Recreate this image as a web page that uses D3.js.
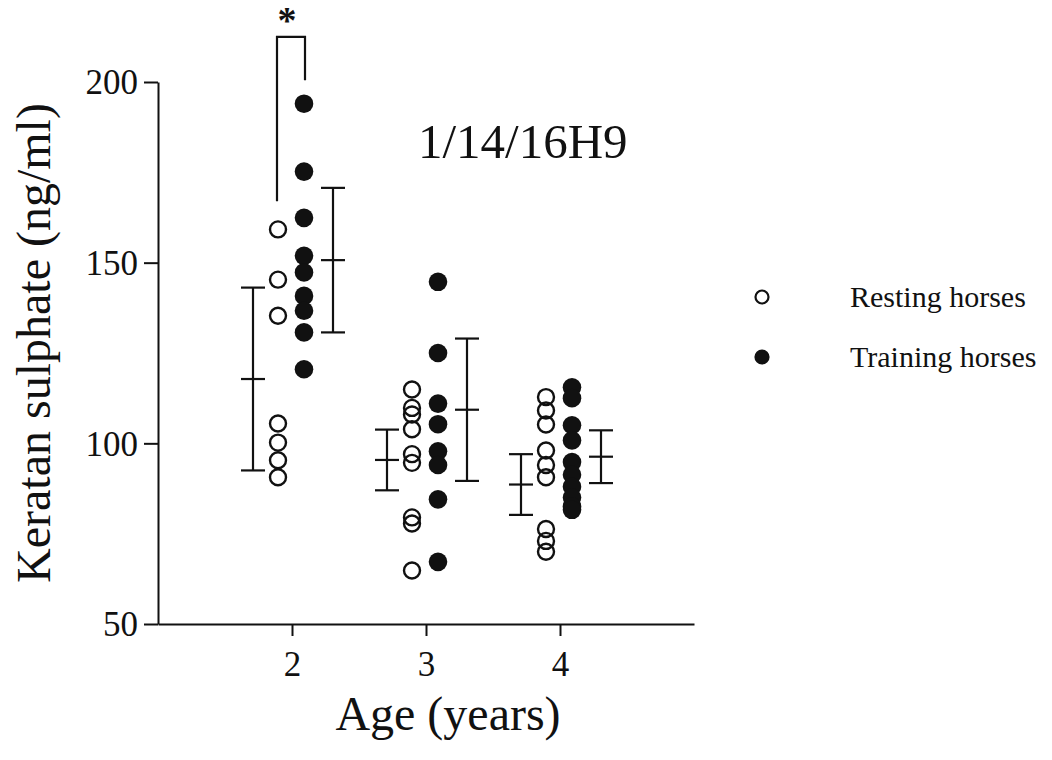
<!DOCTYPE html>
<html>
<head>
<meta charset="utf-8">
<script src="https://cdn.jsdelivr.net/npm/d3@7"></script>
<style>
  body { margin: 0; background: #fff; }
  text { font-family: "Liberation Serif", "Times New Roman", serif; fill: #111; }
</style>
</head>
<body>
<div id="chart"></div>
<script>
// valeurs
var ages = [2, 3, 4];
var restingValues = [
    [159.2, 145.3, 135.3, 105.5, 100.2, 95.3, 90.6],
    [114.9, 109.8, 108, 103.9, 97, 94.6, 79.5, 77.8, 64.8],
    [112.8, 109.1, 105.2, 98, 94, 90.6, 76.3, 73, 70]
];
var trainingValues = [
    [194, 175.2, 162.4, 151.9, 147.3, 140.8, 136.7, 130.7, 120.5],
    [144.7, 125, 111, 105.3, 97.8, 94, 84.5, 67.2],
    [115.5, 112.5, 105, 100.8, 94.8, 91.3, 88, 85, 82.6, 81.6]
];
var restingMean = [117.8, 95.4, 88.6];
var restingSD = [25.3, 8.4, 8.4];
var trainingMean = [150.7, 109.3, 96.3];
var trainingSD = [20, 19.7, 7.3];
var yTicks = [50, 100, 150, 200];
var xTicks = [2, 3, 4];
var legendLabels = ["Resting horses", "Training horses"];
var bracketValues = [167, 212.5, 200.5]; // gauche bas, haut, droite bas

var width = 1052, height = 760;

var svg = d3.select("#chart").append("svg")
    .attr("width", width)
    .attr("height", height);

var x = d3.scaleLinear().domain([1, 5]).range([158, 694]);
var y = d3.scaleLinear().domain([50, 200]).range([624, 82]);

// axes
var yAxis = svg.append("g")
    .attr("transform", "translate(" + x(1) + ",0)")
    .call(d3.axisLeft(y).tickValues(yTicks).tickFormat(d3.format("d"))
        .tickSize(14).tickSizeOuter(0).tickPadding(6));
var xAxis = svg.append("g")
    .attr("transform", "translate(0," + y(50) + ")")
    .call(d3.axisBottom(x).tickValues(xTicks).tickFormat(d3.format("d"))
        .tickSize(12).tickSizeOuter(0).tickPadding(15));

[yAxis, xAxis].forEach(function(g) {
    g.attr("font-size", null).attr("font-family", null);
    g.selectAll("path, line").attr("stroke", "#111").attr("stroke-width", 2);
    g.selectAll("text").style("font-size", "35px").attr("fill", "#111");
});
yAxis.selectAll("text").attr("dy", "0.34em");

// titres des axes
svg.append("text")
    .attr("transform", "translate(50," + 343 + ") rotate(-90)")
    .style("text-anchor", "middle")
    .style("font-size", "48px")
    .text("Keratan sulphate (ng/ml)");

svg.append("text")
    .attr("x", 448)
    .attr("y", 730)
    .style("text-anchor", "middle")
    .style("font-size", "48px")
    .text("Age (years)");

svg.append("text")
    .attr("x", 418)
    .attr("y", 158)
    .style("font-size", "49px")
    .text("1/14/16H9");

// points
var offsets = { resting: -14, training: 12 };
var restPts = [], trainPts = [];
ages.forEach(function(a, i) {
    restingValues[i].forEach(function(v) { restPts.push({ age: a, v: v }); });
    trainingValues[i].forEach(function(v) { trainPts.push({ age: a, v: v }); });
});

svg.selectAll(".rest")
    .data(restPts)
    .enter().append("circle")
        .attr("class", "rest")
        .attr("cx", function(d) { return x(d.age) + offsets.resting; })
        .attr("cy", function(d) { return y(d.v); })
        .attr("r", 8)
        .style("fill", "none")
        .style("stroke", "#111")
        .style("stroke-width", 2.4);

svg.selectAll(".train")
    .data(trainPts)
    .enter().append("circle")
        .attr("class", "train")
        .attr("cx", function(d) { return x(d.age) + offsets.training; })
        .attr("cy", function(d) { return y(d.v); })
        .attr("r", 9.3)
        .style("fill", "#111");

// barres d'erreur (moyenne +/- SD)
var bars = ages.map(function(a, i) {
    return { age: a, dx: -39, m: restingMean[i], s: restingSD[i] };
}).concat(ages.map(function(a, i) {
    return { age: a, dx: 41, m: trainingMean[i], s: trainingSD[i] };
}));

var capW = 12;
var barG = svg.selectAll(".errbar")
    .data(bars)
    .enter().append("g")
        .attr("class", "errbar")
        .attr("transform", function(d) { return "translate(" + (x(d.age) + d.dx) + ",0)"; });

barG.append("line")
    .attr("y1", function(d) { return y(d.m - d.s); })
    .attr("y2", function(d) { return y(d.m + d.s); });
barG.selectAll(".cap")
    .data(function(d) { return [d.m - d.s, d.m, d.m + d.s]; })
    .enter().append("line")
        .attr("class", "cap")
        .attr("x1", -capW).attr("x2", capW)
        .attr("y1", function(v) { return y(v); })
        .attr("y2", function(v) { return y(v); });
barG.selectAll("line").attr("stroke", "#111").attr("stroke-width", 2.2);

// crochet de significativité
var bx1 = x(2) - 15, bx2 = x(2) + 13;
svg.append("path")
    .attr("d", "M" + bx1 + "," + y(bracketValues[0]) + "V" + y(bracketValues[1]) +
               "H" + bx2 + "V" + y(bracketValues[2]))
    .attr("fill", "none")
    .attr("stroke", "#111")
    .attr("stroke-width", 2.2);
svg.append("text")
    .attr("x", bx1 + 10)
    .attr("y", 33)
    .style("text-anchor", "middle")
    .style("font-size", "38px")
    .style("font-weight", "bold")
    .text("*");

// légende
var legend = svg.selectAll(".legend")
    .data(legendLabels)
    .enter().append("g")
        .attr("class", "legend")
        .attr("transform", function(d, i) { return "translate(762," + (297 + i * 60) + ")"; });

legend.append("circle")
    .attr("r", 6.5)
    .style("fill", function(d, i) { return i === 0 ? "#fff" : "#111"; })
    .style("stroke", "#111")
    .style("stroke-width", 2.2);

legend.append("text")
    .attr("x", 88)
    .attr("dy", "0.32em")
    .style("font-size", "30px")
    .text(function(d) { return d; });
</script>
</body>
</html>
